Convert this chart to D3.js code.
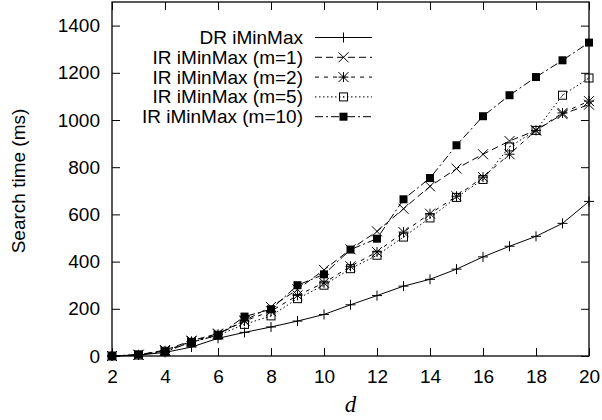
<!DOCTYPE html>
<html>
<head>
<meta charset="utf-8">
<script src="https://cdn.jsdelivr.net/npm/d3@7"></script>
<style>
  body { margin: 0; background: #fff; }
  text { font-family: 'Liberation Sans', Arial, sans-serif; fill: #000; }
</style>
</head>
<body>
<div id="chart"></div>
<script>
const dims = [2, 3, 4, 5, 6, 7, 8, 9, 10, 11, 12, 13, 14, 15, 16, 17, 18, 19, 20]

const drMinMax = [0, 4, 15, 38, 75, 100, 123, 148, 176, 217, 256, 296, 325, 368, 420, 465, 507, 562, 655]
const irM1 = [0, 5, 25, 65, 95, 150, 208, 282, 365, 452, 528, 624, 719, 794, 855, 911, 956, 1025, 1065]
const irM2 = [0, 5, 22, 62, 92, 148, 190, 257, 310, 380, 441, 525, 603, 677, 758, 855, 956, 1030, 1080]
const irM5 = [0, 4, 20, 58, 88, 134, 170, 243, 300, 370, 427, 504, 585, 672, 748, 886, 956, 1105, 1178]
const irM10 = [0, 6, 18, 59, 88, 167, 198, 300, 346, 451, 497, 664, 754, 893, 1016, 1105, 1182, 1253, 1328]

const seriesNames = [
  'DR iMinMax',
  'IR iMinMax (m=1)',
  'IR iMinMax (m=2)',
  'IR iMinMax (m=5)',
  'IR iMinMax (m=10)'
]
const xTicks = [2, 4, 6, 8, 10, 12, 14, 16, 18, 20]
const yTicks = [0, 200, 400, 600, 800, 1000, 1200, 1400]

// gnuplot-ish line types
const dashes = [null, '7,4', '4,5', '1.5,2.5', '8,3,2,3']
const markers = ['plus', 'cross', 'star', 'box', 'filledbox']

const margin = { top: 2, left: 112, right: 13, bottom: 64 }
const width = 602 - margin.left - margin.right
const height = 420 - margin.top - margin.bottom

const series = [drMinMax, irM1, irM2, irM5, irM10].map((vals, i) => ({
  name: seriesNames[i],
  dash: dashes[i],
  marker: markers[i],
  values: vals.map((v, j) => ({ d: dims[j], t: v }))
}))

const svg = d3
  .select('#chart')
  .append('svg')
  .attr('width', 602)
  .attr('height', 420)

const g = svg
  .append('g')
  .attr('transform', 'translate(' + margin.left + ',' + margin.top + ')')

const x = d3.scaleLinear().domain([2, 20]).range([0, width])
const y = d3.scaleLinear().domain([0, 1500]).range([height, 0])

// axes, ticks pointing inwards
g.append('g')
  .attr('class', 'axis')
  .attr('transform', `translate(0,${height})`)
  .call(d3.axisBottom(x).tickValues(xTicks).tickFormat(d3.format('d')).tickSizeInner(-8).tickSizeOuter(0).tickPadding(14))
g.append('g')
  .attr('class', 'axis')
  .call(d3.axisTop(x).tickValues(xTicks).tickSizeInner(-8).tickSizeOuter(0).tickFormat(''))
g.append('g')
  .attr('class', 'axis')
  .call(d3.axisLeft(y).tickValues(yTicks).tickFormat(d3.format('d')).tickSizeInner(-8).tickSizeOuter(0).tickPadding(12))
g.append('g')
  .attr('class', 'axis')
  .attr('transform', `translate(${width},0)`)
  .call(d3.axisRight(y).tickValues(yTicks).tickSizeInner(-8).tickSizeOuter(0).tickFormat(''))

g.selectAll('.axis .domain').remove()
g.selectAll('.axis line').attr('stroke', '#000').attr('stroke-width', 1)
g.selectAll('.axis text')
  .attr('font-size', 19)
  .attr('font-family', "'Liberation Sans', Arial, sans-serif")
  .attr('fill', '#000')

g.append('rect')
  .attr('width', width)
  .attr('height', height)
  .attr('fill', 'none')
  .attr('stroke', '#000')
  .attr('stroke-width', 1.3)

// axis titles
svg
  .append('text')
  .text('Search time (ms)')
  .attr('transform', 'translate(18,181) rotate(-90)')
  .attr('text-anchor', 'middle')
  .attr('dominant-baseline', 'central')
  .attr('font-size', 19)

svg
  .append('text')
  .text('d')
  .attr('x', margin.left + width / 2)
  .attr('y', 412)
  .attr('text-anchor', 'middle')
  .style('font-family', "'Liberation Serif', 'Times New Roman', serif")
  .style('font-style', 'italic')
  .attr('font-size', 23)

function drawMarker(sel, type) {
  const s = 5
  if (type === 'plus' || type === 'star') {
    sel.append('path')
      .attr('d', `M${-s},0H${s}M0,${-s}V${s}`)
      .attr('stroke', '#000')
      .attr('stroke-width', 1)
  }
  if (type === 'cross' || type === 'star') {
    sel.append('path')
      .attr('d', `M${-s},${-s}L${s},${s}M${-s},${s}L${s},${-s}`)
      .attr('stroke', '#000')
      .attr('stroke-width', 1)
  }
  if (type === 'box') {
    sel.append('rect')
      .attr('x', -4).attr('y', -4)
      .attr('width', 8).attr('height', 8)
      .attr('fill', 'none')
      .attr('stroke', '#000')
      .attr('stroke-width', 1)
    sel.append('rect')
      .attr('x', -0.5).attr('y', -0.5)
      .attr('width', 1).attr('height', 1)
      .attr('fill', '#000')
  }
  if (type === 'filledbox') {
    sel.append('rect')
      .attr('x', -4).attr('y', -4)
      .attr('width', 8).attr('height', 8)
      .attr('fill', '#000')
  }
}

const line = d3
  .line()
  .x(d => x(d.d))
  .y(d => y(d.t))

series.forEach(function(s) {
  g.append('path')
    .datum(s.values)
    .attr('d', line)
    .attr('fill', 'none')
    .attr('stroke', '#000')
    .attr('stroke-width', 1)
    .attr('stroke-dasharray', s.dash)

  g.selectAll(null)
    .data(s.values)
    .enter()
    .append('g')
    .attr('transform', d => `translate(${x(d.d)},${y(d.t)})`)
    .each(function() {
      drawMarker(d3.select(this), s.marker)
    })
})

// legend
const legend = svg
  .append('g')
  .selectAll('g')
  .data(series)
  .enter()
  .append('g')
  .attr('transform', (d, i) => `translate(0,${37.5 + i * 19.8})`)

legend
  .append('text')
  .text(d => d.name)
  .attr('x', 303)
  .attr('text-anchor', 'end')
  .attr('dominant-baseline', 'central')
  .attr('font-size', 19)

legend
  .append('path')
  .attr('d', 'M315,0H372')
  .attr('stroke', '#000')
  .attr('stroke-width', 1)
  .attr('stroke-dasharray', d => d.dash)

legend
  .append('g')
  .attr('transform', 'translate(343.5,0)')
  .each(function(d) {
    drawMarker(d3.select(this), d.marker)
  })
</script>
</body>
</html>
